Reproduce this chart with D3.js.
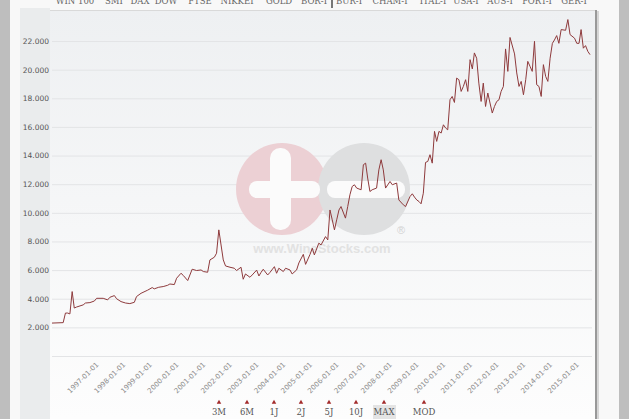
<!DOCTYPE html>
<html>
<head>
<meta charset="utf-8">
<script src="https://cdn.jsdelivr.net/npm/d3@7"></script>
<style>
body { margin: 0; background: #bebebe; }
svg { display: block; }
</style>
</head>
<body>
<svg id="chart" width="629" height="419"></svg>
<script>
// index data (monthly closes)
var dates = ["1995-05","1995-10","1995-11","1995-12","1996-01","1996-02","1996-03","1996-04","1996-07","1996-08","1996-10","1996-12",
    "1997-01","1997-04","1997-06","1997-07","1997-09","1997-10","1997-12","1998-02","1998-04","1998-06","1998-07","1998-09","1998-12",
    "1999-02","1999-03","1999-05","1999-07","1999-09","1999-10","1999-12","2000-01","2000-03","2000-04","2000-06","2000-08","2000-10","2000-12",
    "2001-01","2001-03","2001-04","2001-06","2001-07","2001-08","2001-10","2001-11","2002-01","2002-03","2002-04","2002-06","2002-07","2002-08","2002-10","2002-11",
    "2003-01","2003-02","2003-03","2003-04","2003-06","2003-07","2003-09","2003-10","2003-11","2004-01","2004-02","2004-04","2004-05","2004-07","2004-08","2004-10","2004-11",
    "2005-01","2005-02","2005-03","2005-05","2005-06","2005-08","2005-09","2005-10","2005-11","2005-12","2006-01","2006-02","2006-03","2006-05","2006-06","2006-07","2006-08","2006-09","2006-10","2006-12",
    "2007-01","2007-02","2007-03","2007-04","2007-05","2007-07","2007-08","2007-09","2007-10","2007-11","2008-01","2008-02","2008-04","2008-05","2008-07","2008-08","2008-10","2008-11","2008-12",
    "2009-01","2009-02","2009-03","2009-04","2009-05","2009-06","2009-07","2009-08","2009-09","2009-10","2009-11","2009-12",
    "2010-01","2010-02","2010-03","2010-04","2010-05","2010-06","2010-07","2010-08","2010-09","2010-10","2010-11","2010-12",
    "2011-01","2011-02","2011-03","2011-04","2011-05","2011-06","2011-07","2011-08","2011-09","2011-10","2011-11","2011-12",
    "2012-01","2012-02","2012-03","2012-04","2012-05","2012-06","2012-07","2012-09","2012-10","2012-11","2012-12",
    "2013-01","2013-02","2013-03","2013-04","2013-05","2013-06","2013-07","2013-08","2013-09","2013-10","2013-11","2013-12",
    "2014-01","2014-02","2014-03","2014-04","2014-05","2014-06","2014-08","2014-09","2014-10","2014-12",
    "2015-01","2015-02","2015-03","2015-04","2015-05","2015-06","2015-07"]

var values = [2.30,2.33,3.00,3.00,2.94,4.50,3.35,3.42,3.57,3.70,3.73,3.84,
    4.03,4.03,3.92,4.10,4.22,4.00,3.80,3.70,3.66,3.75,4.15,4.38,4.60,
    4.78,4.69,4.80,4.85,4.94,5.03,4.99,5.43,5.78,5.63,5.27,6.06,5.97,6.01,
    5.90,5.85,6.71,6.90,7.18,8.81,6.71,6.29,6.20,6.13,5.97,6.20,5.36,5.73,5.50,5.66,
    6.00,5.59,5.83,6.06,5.66,5.83,6.24,5.78,6.13,5.90,6.13,6.01,5.73,6.01,6.50,7.10,6.40,
    7.10,7.53,7.06,7.88,7.76,8.34,8.11,10.20,9.51,8.81,9.51,10.20,10.44,9.63,10.44,11.26,11.84,11.96,11.73,11.61,
    13.36,13.47,12.43,11.49,11.61,11.73,13.00,13.71,13.00,11.73,12.19,11.96,12.08,10.90,10.56,10.44,11.14,11.33,11.10,
    10.90,10.79,10.63,11.37,13.52,13.59,14.06,13.47,15.69,14.99,15.69,15.57,
    16.15,15.92,15.80,17.90,18.13,17.71,19.41,19.30,18.48,18.83,19.30,18.48,
    20.70,20.05,21.17,20.80,19.06,17.78,19.06,17.43,18.37,17.67,16.97,17.43,
    17.78,17.90,18.48,18.83,21.45,19.88,22.25,21.10,19.77,18.83,19.18,
    18.25,19.30,20.58,20.23,19.88,21.98,18.95,18.83,18.13,20.35,19.53,19.18,
    20.80,21.84,22.07,22.38,21.84,22.80,22.75,23.50,22.45,22.20,
    21.84,21.84,22.80,21.50,21.68,21.28,21.05]

var yTicks = [2, 4, 6, 8, 10, 12, 14, 16, 18, 20, 22]
var gridTicks = [0, 2, 4, 6, 8, 10, 12, 14, 16, 18, 20, 22]
var xTickYears = [1997, 1998, 1999, 2000, 2001, 2002, 2003, 2004, 2005, 2006, 2007, 2008, 2009, 2010, 2011, 2012, 2013, 2014, 2015]

var tabs = ["WIN 100", "SMI", "DAX", "DOW", "FTSE", "NIKKEI", "GOLD", "BOR-I", "BUR-I", "CHAM-I", "ITAL-I", "USA-I", "AUS-I", "PORT-I", "GER-I"]
var tabCenters = [75, 114, 140, 166, 200, 237, 279, 314, 349, 390, 433, 466, 500, 537, 574]
var ranges = ["3M", "6M", "1J", "2J", "5J", "10J", "MAX", "MOD"]
var rangeCenters = [219, 247, 274, 301, 329, 356, 384, 424]

var parseMonth = d3.timeParse("%Y-%m")
var data = dates.map(function(d, i) { return { date: parseMonth(d), value: values[i] } })

var svg = d3.select("#chart")

// page background + white card
svg.append("rect").attr("width", 629).attr("height", 419).attr("fill", "#bebebe")
svg.append("rect").attr("x", 10).attr("width", 609).attr("height", 419).attr("fill", "#f8f8f8")
svg.append("rect").attr("x", 20).attr("y", 8).attr("width", 30).attr("height", 411).attr("fill", "#eaeced")

var defs = svg.append("defs")
var grad = defs.append("linearGradient").attr("id", "plotbg").attr("x1", 0).attr("y1", 0).attr("x2", 0).attr("y2", 1)
grad.append("stop").attr("offset", "0%").attr("stop-color", "#eef0f2")
grad.append("stop").attr("offset", "100%").attr("stop-color", "#fdfdfd")

svg.append("rect").attr("x", 50).attr("y", 10).attr("width", 545).attr("height", 409).attr("fill", "url(#plotbg)")
svg.append("line").attr("x1", 50).attr("x2", 595).attr("y1", 10.5).attr("y2", 10.5).attr("stroke", "#d9d9d9")
svg.append("rect").attr("x", 595).attr("y", 10).attr("width", 2).attr("height", 409).attr("fill", "#999")
svg.append("rect").attr("x", 597).attr("y", 11).attr("width", 2).attr("height", 408).attr("fill", "#d6d6d6")

// tab row at the top (cut off by the crop)
svg.append("g").selectAll("text").data(tabs).enter().append("text")
    .attr("x", function(d, i) { return tabCenters[i] })
    .attr("y", 4)
    .attr("text-anchor", "middle")
    .style("font-family", "DejaVu Serif")
    .style("font-size", "8.5px")
    .style("fill", "#666")
    .text(function(d) { return d })
svg.append("rect").attr("x", 331).attr("y", 0).attr("width", 2).attr("height", 8).attr("fill", "#777")

// scales
var x = d3.scaleTime().domain(d3.extent(data, function(d) { return d.date })).range([52, 590])
var y = d3.scaleLinear().domain([0, 24]).range([356, 12.4])

// gridlines
svg.append("g")
    .attr("transform", "translate(52,0)")
    .call(d3.axisLeft(y).tickValues(gridTicks).tickSize(-540).tickFormat(""))
    .call(function(g) { g.select(".domain").remove() })
    .selectAll("line").attr("stroke", "#e3e4e6")

// watermark logo
var wm = svg.append("g")
wm.append("circle").attr("cx", 282).attr("cy", 189).attr("r", 46).attr("fill", "#ecd0d4")
wm.append("circle").attr("cx", 364).attr("cy", 189).attr("r", 46).attr("fill", "#dedfe0")
wm.append("rect").attr("x", 249).attr("y", 181).attr("width", 71).attr("height", 17).attr("rx", 8).attr("fill", "#fbfbfb")
wm.append("rect").attr("x", 270).attr("y", 148).attr("width", 21).attr("height", 82).attr("rx", 10).attr("fill", "#fbfbfb")
wm.append("rect").attr("x", 327).attr("y", 181).attr("width", 78).attr("height", 17).attr("rx", 8).attr("fill", "#fbfbfb")
wm.append("text").attr("x", 401).attr("y", 234).attr("text-anchor", "middle")
    .style("font-family", "Liberation Sans").style("font-size", "11px").style("fill", "#d2d2d2").text("®")
wm.append("text").attr("x", 322).attr("y", 253).attr("text-anchor", "middle")
    .style("font-family", "Liberation Sans").style("font-weight", "bold").style("font-size", "13px")
    .style("fill", "#e2e2e2").text("www.WineStocks.com")

// y axis labels
svg.append("g")
    .attr("transform", "translate(49,0)")
    .call(d3.axisLeft(y).tickValues(yTicks).tickSize(0).tickPadding(0).tickFormat(d3.format(".3f")))
    .call(function(g) { g.select(".domain").remove() })
    .selectAll("text")
    .style("font-family", "DejaVu Sans")
    .style("font-size", "7.5px")
    .style("fill", "#555")

// x axis labels, rotated
svg.append("g")
    .attr("transform", "translate(0,356)")
    .call(d3.axisBottom(x)
        .tickValues(xTickYears.map(function(yr) { return new Date(yr, 0, 1) }))
        .tickSize(0)
        .tickFormat(d3.timeFormat("%Y-%m-%d")))
    .call(function(g) { g.select(".domain").remove() })
    .selectAll("text")
    .attr("x", 0).attr("y", 0).attr("dy", 0)
    .attr("transform", "translate(2,9) rotate(-45)")
    .style("text-anchor", "end")
    .style("font-family", "DejaVu Sans")
    .style("font-size", "7px")
    .style("fill", "#8a8a8a")

// index line
var line = d3.line()
    .x(function(d) { return x(d.date) })
    .y(function(d) { return y(d.value) })

svg.append("path")
    .datum(data)
    .attr("fill", "none")
    .attr("stroke", "#8e3a3c")
    .attr("stroke-width", 1)
    .attr("stroke-linejoin", "round")
    .attr("d", line)

// range buttons
svg.append("rect").attr("x", 373).attr("y", 405).attr("width", 23).attr("height", 14).attr("fill", "#e4e4e4")
var btn = svg.append("g")
btn.selectAll("path").data(ranges).enter().append("path")
    .attr("d", d3.symbol().type(d3.symbolTriangle).size(9))
    .attr("transform", function(d, i) { return "translate(" + rangeCenters[i] + ",402.5)" })
    .attr("fill", "#a32a2a")
btn.selectAll("text").data(ranges).enter().append("text")
    .attr("x", function(d, i) { return rangeCenters[i] })
    .attr("y", 415)
    .attr("text-anchor", "middle")
    .style("font-family", "DejaVu Serif")
    .style("font-size", "8.5px")
    .style("fill", "#555")
    .text(function(d) { return d })
</script>
</body>
</html>
